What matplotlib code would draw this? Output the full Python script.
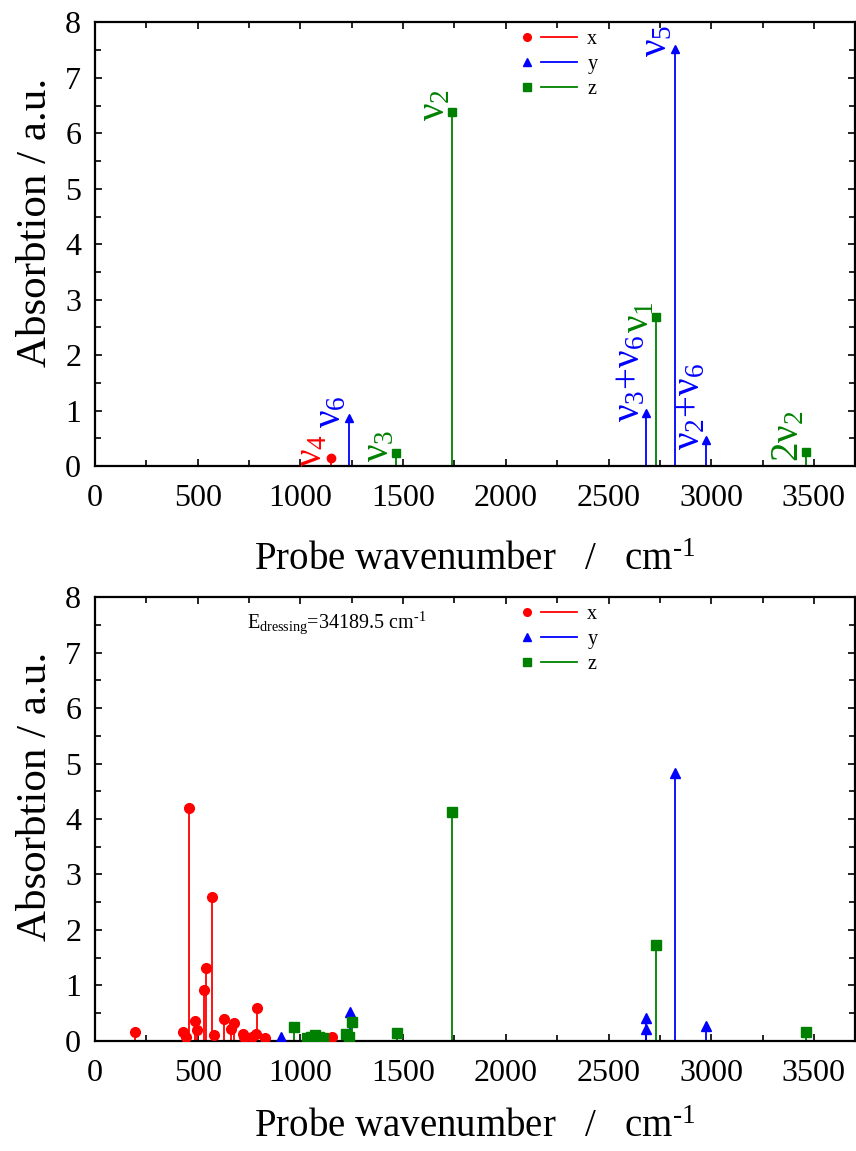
import matplotlib
matplotlib.use("Agg")
import matplotlib.pyplot as plt
from matplotlib.lines import Line2D
from matplotlib.legend_handler import HandlerBase
from matplotlib.ticker import MultipleLocator

plt.rcParams["font.family"] = ["Liberation Serif", "DejaVu Serif"]
plt.rcParams["mathtext.fontset"] = "custom"
plt.rcParams["mathtext.rm"] = "Liberation Serif"
plt.rcParams["mathtext.it"] = "Liberation Serif:italic"

# --- oberes Panel: Spektrum ohne Dressing-Feld ---
top_x_pos = [1150]
top_x_int = [0.15]
top_y_pos = [1235, 2684, 2822, 2975]
top_y_int = [0.87, 0.96, 7.53, 0.47]
top_z_pos = [1466, 1738, 2731, 3460]
top_z_int = [0.24, 6.38, 2.69, 0.26]

# Bandenzuordnung (Text, Farbe, Ankerpunkt der Beschriftung)
band_text = ["ν$_4$", "ν$_6$", "ν$_3$", "ν$_2$", "ν$_3$+ν$_6$",
             "ν$_1$", "ν$_5$", "ν$_2$+ν$_6$", "2ν$_2$"]
band_color = ["x", "y", "z", "z", "y", "z", "y", "y", "z"]
band_xc = [1057, 1150, 1381, 1656, 2606, 2649, 2736, 2898, 3378]
band_yb = [-0.02, 0.68, 0.07, 6.23, 0.80, 2.40, 7.37, 0.29, 0.07]

# --- unteres Panel: mit Dressing-Feld ---
bot_x_pos = [196, 429, 442, 460, 486, 496, 533, 541, 571, 580, 629, 664, 675,
             719, 726, 766, 783, 789, 830, 1152]
bot_x_int = [0.16, 0.16, 0.07, 4.20, 0.36, 0.20, 0.92, 1.32, 2.59, 0.10, 0.39,
             0.22, 0.32, 0.12, 0.08, 0.08, 0.12, 0.59, 0.06, 0.08]
bot_y_pos = [905, 1240, 2684, 2684, 2822, 2976]
bot_y_int = [0.07, 0.53, 0.41, 0.21, 4.83, 0.27]
bot_z_pos = [967, 1031, 1050, 1071, 1090, 1112, 1222, 1239, 1250, 1468, 1740,
             2731, 3460]
bot_z_int = [0.26, 0.06, 0.07, 0.10, 0.08, 0.06, 0.13, 0.08, 0.34, 0.14, 4.12,
             1.73, 0.17]

dressing_text = r"E$_{\rm dressing}$=34189.5 cm$^{\rm \text{-}1}$"
x_label = r"Probe wavenumber   /   cm$^{\rm \text{-}1}$"

colors = {"x": "#ff0000", "y": "#0000ff", "z": "#008000"}
markers = {"x": "o", "y": "^", "z": "s"}


class MarkerThenLine(HandlerBase):
    # gnuplot-artig: Symbol links, Linie rechts daneben
    def create_artists(self, legend, orig_handle, xdescent, ydescent,
                       width, height, fontsize, trans):
        y = height / 2 - ydescent
        x0 = -xdescent
        mk = Line2D([x0 + 0.07 * width], [y], ls="none",
                    marker=orig_handle.get_marker(),
                    markersize=orig_handle.get_markersize(),
                    color=orig_handle.get_color(), transform=trans)
        ln = Line2D([x0 + 0.33 * width, x0 + width], [y, y],
                    color=orig_handle.get_color(),
                    lw=orig_handle.get_linewidth(), transform=trans)
        return [mk, ln]


def draw_sticks(ax, pos, inten, key, ms):
    ax.vlines(pos, 0, inten, color=colors[key], lw=1.3, zorder=2)
    ax.plot(pos, inten, ls="none", marker=markers[key], ms=ms,
            color=colors[key], zorder=3)


def style_axes(ax, xpad):
    ax.set_xlim(0, 3700)
    ax.set_ylim(0, 8)
    ax.xaxis.set_major_locator(MultipleLocator(500))
    ax.xaxis.set_minor_locator(MultipleLocator(250))
    ax.yaxis.set_major_locator(MultipleLocator(1))
    ax.yaxis.set_minor_locator(MultipleLocator(0.5))
    ax.tick_params(which="both", direction="in", top=True, right=True,
                   width=1.2, labelsize=23)
    ax.tick_params(which="major", length=5)
    ax.tick_params(which="minor", length=4)
    ax.tick_params(axis="x", pad=13)
    ax.tick_params(axis="y", pad=10)
    for s in ax.spines.values():
        s.set_linewidth(1.6)
    ax.set_xlabel(x_label, fontsize=28, labelpad=xpad)
    ax.set_ylabel("Absorbtion / a.u.", fontsize=31)
    ax.yaxis.set_label_coords(-0.053, 0.55)
    handles = [Line2D([], [], marker=markers[k], color=colors[k], ms=5.5, lw=1.3)
               for k in ["x", "y", "z"]]
    ax.legend(handles, ["x", "y", "z"], loc="upper left",
              bbox_to_anchor=(0.563, 0.983), frameon=False, fontsize=14.5,
              handlelength=2.7, handletextpad=0.5, labelspacing=0.3,
              borderpad=0, borderaxespad=0,
              handler_map={Line2D: MarkerThenLine()})


fig = plt.figure(figsize=(8.56, 11.51), dpi=100)
ax1 = fig.add_axes([0.111, 0.5951, 0.8878, 0.3854])
ax2 = fig.add_axes([0.111, 0.0956, 0.8878, 0.3857])

draw_sticks(ax1, top_x_pos, top_x_int, "x", 6)
draw_sticks(ax1, top_y_pos, top_y_int, "y", 6)
draw_sticks(ax1, top_z_pos, top_z_int, "z", 6)
for t, c, xc, yb in zip(band_text, band_color, band_xc, band_yb):
    ax1.text(xc, yb, t, color=colors[c], rotation=90, fontsize=28,
             ha="center", va="bottom")
style_axes(ax1, 21)

draw_sticks(ax2, bot_x_pos, bot_x_int, "x", 7)
draw_sticks(ax2, bot_y_pos, bot_y_int, "y", 7)
draw_sticks(ax2, bot_z_pos, bot_z_int, "z", 7)
ax2.text(0.2, 0.93, dressing_text, transform=ax2.transAxes, fontsize=14.5,
         va="baseline")
style_axes(ax2, 15)

fig.savefig("out.png", dpi=100)
